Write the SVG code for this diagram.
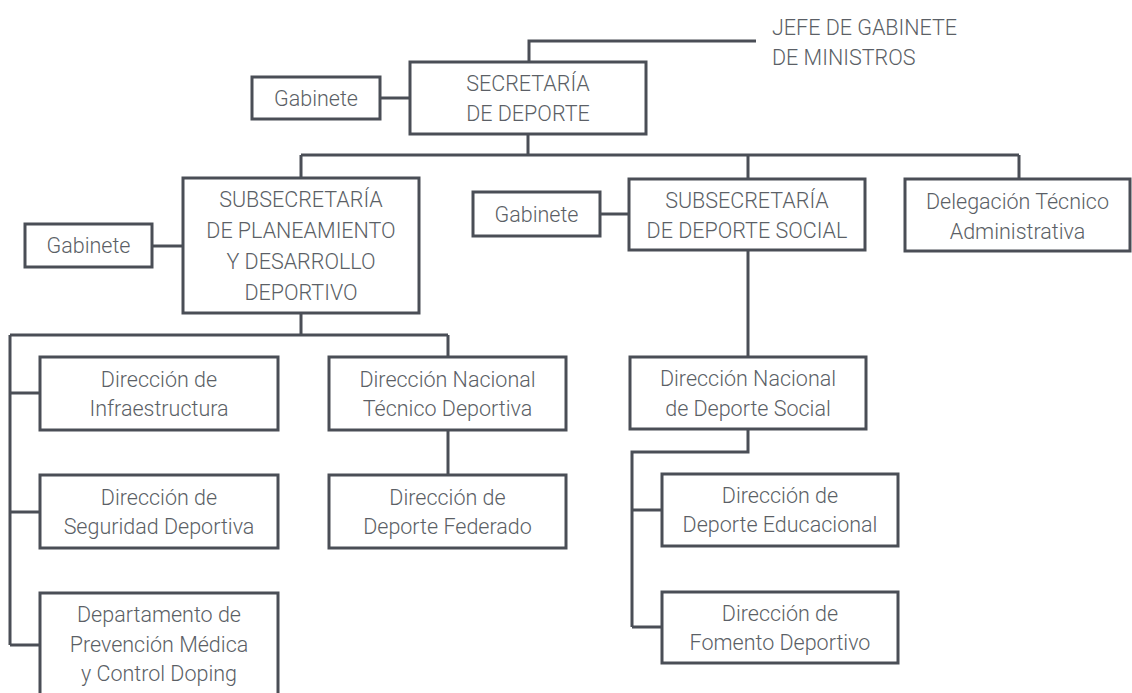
<svg xmlns="http://www.w3.org/2000/svg" width="1132" height="693" viewBox="0 0 1132 693">
<style>
.b{fill:#fff;stroke:#4a4e56;stroke-width:3}
.c{fill:none;stroke:#4a4e56;stroke-width:3}
text{font-family:Roboto,"Liberation Sans",sans-serif;font-weight:300;font-size:21.5px;fill:#5b5f66;text-anchor:middle}
</style>
<rect width="1132" height="693" fill="#fff"/>
<g id="connectors" class="c">
<path d="M529 134V41H756"/>
<path d="M380 98H410"/>
<path d="M528 134V155M301 155H1019M301 155V178M748 155V178M1019 155V178"/>
<path d="M152 246H183"/>
<path d="M600 214H629"/>
<path d="M301 313V335M10 335H448M448 335V357M10 335V645M10 393H40M10 512H40M10 645H40"/>
<path d="M448 430V475"/>
<path d="M748 250V357"/>
<path d="M748 430V452H632V627M632 510H662M632 627H662"/>
</g>
<g id="jefe"><text x="772" y="35" style="text-anchor:start">JEFE DE GABINETE</text><text x="772" y="65" style="text-anchor:start">DE MINISTROS</text></g>
<g id="secretaria"><rect class="b" x="410" y="62" width="236" height="72"/><text x="528" y="91">SECRETARÍA</text><text x="528" y="121">DE DEPORTE</text></g>
<g id="gabinete1"><rect class="b" x="252" y="77" width="128" height="42"/><text x="316" y="105.5">Gabinete</text></g>
<g id="subsec1"><rect class="b" x="183" y="178" width="236" height="135"/><text x="301" y="207">SUBSECRETARÍA</text><text x="301" y="238">DE PLANEAMIENTO</text><text x="301" y="269">Y DESARROLLO</text><text x="301" y="300">DEPORTIVO</text></g>
<g id="gabinete2"><rect class="b" x="25" y="224" width="127" height="43"/><text x="88.5" y="253">Gabinete</text></g>
<g id="gabinete3"><rect class="b" x="473" y="192" width="127" height="44"/><text x="536.5" y="221.5">Gabinete</text></g>
<g id="subsec2"><rect class="b" x="629" y="179" width="236" height="71"/><text x="747" y="207.5">SUBSECRETARÍA</text><text x="747" y="237.5">DE DEPORTE SOCIAL</text></g>
<g id="delegacion"><rect class="b" x="905" y="179" width="225" height="72"/><text x="1017.5" y="209">Delegación Técnico</text><text x="1017.5" y="238.5">Administrativa</text></g>
<g id="infra"><rect class="b" x="40" y="357" width="238" height="73"/><text x="159" y="386.5">Dirección de</text><text x="159" y="416">Infraestructura</text></g>
<g id="seguridad"><rect class="b" x="40" y="475" width="238" height="73"/><text x="159" y="504.5">Dirección de</text><text x="159" y="534">Seguridad Deportiva</text></g>
<g id="doping"><rect class="b" x="40" y="593" width="238" height="110"/><text x="159" y="622">Departamento de</text><text x="159" y="651.5">Prevención Médica</text><text x="159" y="681">y Control Doping</text></g>
<g id="dntecnico"><rect class="b" x="329" y="357" width="237" height="73"/><text x="447.5" y="386.5">Dirección Nacional</text><text x="447.5" y="416">Técnico Deportiva</text></g>
<g id="federado"><rect class="b" x="329" y="475" width="237" height="73"/><text x="447.5" y="504.5">Dirección de</text><text x="447.5" y="534">Deporte Federado</text></g>
<g id="dnsocial"><rect class="b" x="630" y="357" width="236" height="72"/><text x="748" y="386">Dirección Nacional</text><text x="748" y="415.5">de Deporte Social</text></g>
<g id="educacional"><rect class="b" x="662" y="474" width="236" height="72"/><text x="780" y="502.5">Dirección de</text><text x="780" y="532">Deporte Educacional</text></g>
<g id="fomento"><rect class="b" x="662" y="592" width="236" height="71"/><text x="780" y="620.5">Dirección de</text><text x="780" y="650">Fomento Deportivo</text></g>
</svg>
